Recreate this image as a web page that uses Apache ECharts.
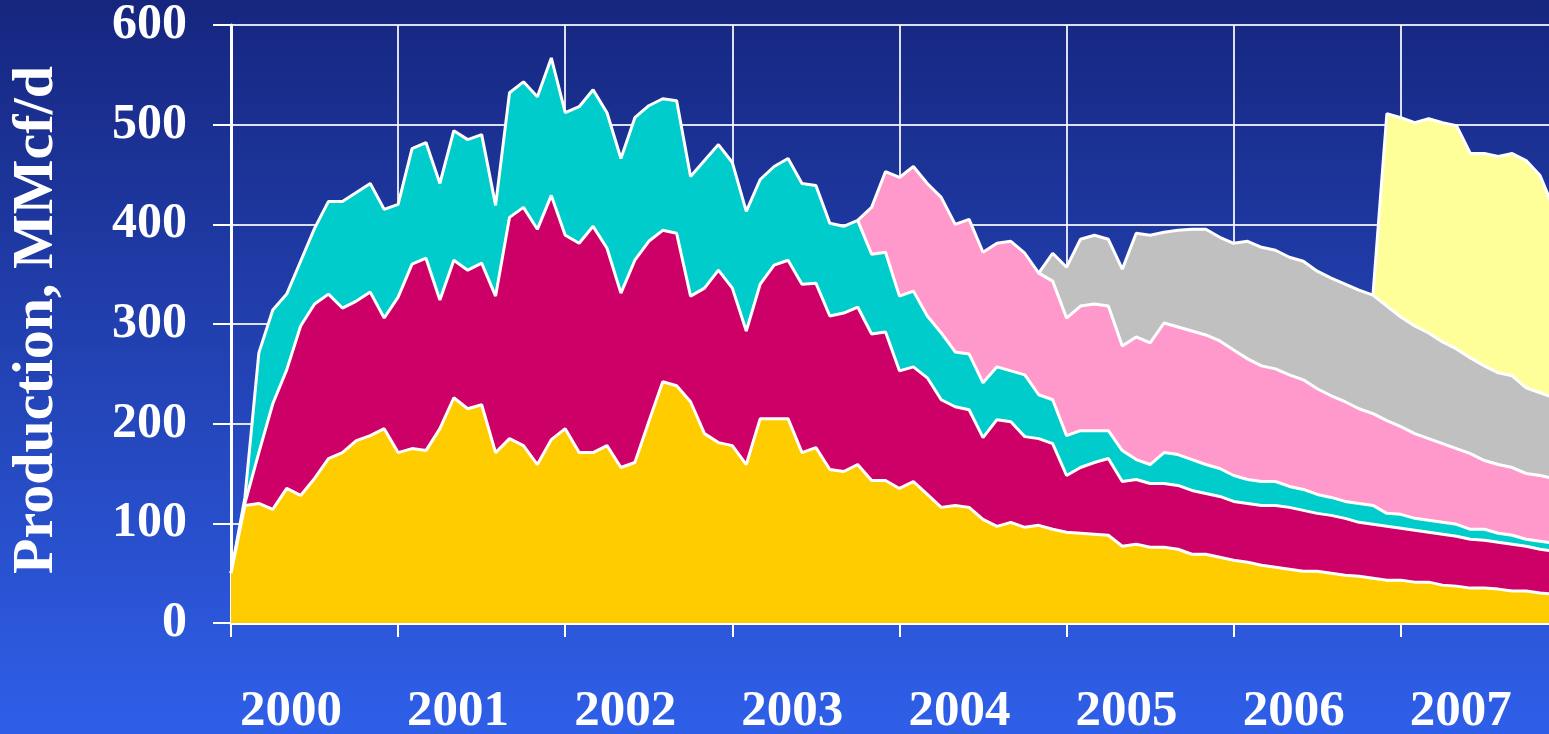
<!DOCTYPE html>
<html>
<head>
<meta charset="utf-8">
<title>Production, MMcf/d</title>
<script src="https://cdn.jsdelivr.net/npm/echarts@6/dist/echarts.min.js"></script>
<style>
  html, body { margin: 0; padding: 0; overflow: hidden; }
  #chart { width: 1549px; height: 734px; }
</style>
</head>
<body>
<div id="chart"></div>
<script>
// years on the x axis, one point per month
const years = ['2000', '2001', '2002', '2003', '2004', '2005', '2006', '2007'];
const yTicks = [0, 100, 200, 300, 400, 500, 600];

// monthly production per group, MMcf/d
const yellowVals = [
  50, 118, 120, 114, 135, 128, 145, 165, 171, 183, 188, 195,
  171, 175, 173, 195, 226, 215, 219, 171, 185, 178, 159, 184,
  195, 171, 171, 178, 156, 161, 202, 242, 238, 222, 190, 181,
  178, 159, 205, 205, 205, 171, 176, 154, 152, 159, 143, 143,
  135, 142, 129, 116, 118, 116, 104, 97, 101, 96, 98, 94,
  91, 90, 89, 88, 77, 79, 76, 76, 74, 69, 69, 66,
  63, 61, 58, 56, 54, 52, 52, 50, 48, 47, 45, 43,
  43, 41, 41, 38, 37, 35, 35, 34, 32, 32, 30, 29
];
const magentaVals = [
  0, 2, 51, 106, 119, 170, 175, 165, 145, 140, 144, 111,
  156, 185, 193, 129, 138, 139, 142, 157, 222, 239, 236, 245,
  194, 210, 227, 198, 175, 203, 181, 152, 153, 106, 146, 173,
  158, 134, 135, 154, 159, 169, 165, 154, 159, 158, 147, 149,
  118, 115, 117, 108, 99, 98, 82, 107, 101, 91, 87, 86,
  57, 66, 72, 77, 65, 65, 64, 64, 64, 64, 61, 61,
  59, 59, 60, 62, 62, 61, 58, 58, 57, 54, 54, 54,
  52, 52, 50, 51, 50, 49, 48, 47, 47, 45, 44, 43
];
const cyanVals = [
  0, 6, 100, 94, 76, 65, 76, 93, 107, 109, 109, 109,
  93, 116, 116, 117, 130, 131, 129, 91, 125, 126, 133, 138,
  123, 137, 137, 136, 135, 143, 136, 132, 133, 120, 128, 126,
  126, 120, 105, 99, 102, 101, 98, 93, 87, 87, 80, 80,
  75, 76, 62, 67, 55, 56, 55, 53, 51, 62, 44, 44,
  40, 37, 32, 28, 31, 20, 19, 31, 31, 31, 29, 28,
  26, 24, 24, 24, 21, 21, 19, 18, 17, 19, 19, 13,
  14, 12, 12, 12, 12, 10, 11, 9, 9, 7, 8, 8
];
// later groups start part way through (index of first month)
const pinkStart = 45;
const pinkVals = [
  0, 47, 81, 119, 125, 133, 136, 128, 135, 131, 124, 130, 122, 122, 119,
  118, 125, 127, 125, 105, 123, 122, 130, 128, 129, 130, 128,
  126, 121, 116, 113, 112, 110, 106, 102, 100, 95, 92, 93,
  88, 85, 82, 79, 76, 76, 69, 69, 68, 66, 66, 65
];
const grayStart = 58;
const grayVals = [
  0, 28,
  51, 67, 69, 67, 77, 104, 108, 91, 97, 102, 106, 104,
  107, 118, 119, 119, 118, 119, 118, 118, 118, 119, 119, 115,
  110, 108, 106, 102, 100, 96, 95, 92, 92, 86, 83, 81
];
const lightStart = 82;
const lightVals = [0, 193, 200, 204, 215, 220, 224, 205, 213, 217, 223, 228, 218, 189];

const months = [];
years.forEach(function (y) {
  for (let i = 1; i <= 12; i++) months.push(y + '-' + (i < 10 ? '0' + i : i));
});

function fromMonth(start, vals) {
  return new Array(start).fill(null).concat(vals);
}

const serif = '"Liberation Serif", "Times New Roman", serif';
const gridColor = 'rgba(255,255,255,0.85)';

// z goes down as we stack up so each white edge sits on top of the area above it
function areaSeries(name, data, color, z) {
  return {
    name: name,
    type: 'line',
    stack: 'total',
    data: data,
    z: z,
    symbol: 'none',
    showSymbol: false,
    connectNulls: false,
    lineStyle: { color: '#ffffff', width: 3 },
    itemStyle: { color: color },
    areaStyle: { color: color, opacity: 1 },
    emphasis: { disabled: true }
  };
}

let myChart = echarts.init(document.getElementById('chart'));
let option = {
  animation: false,
  backgroundColor: new echarts.graphic.LinearGradient(0, 0, 0, 1, [
    { offset: 0, color: '#16267f' },
    { offset: 1, color: '#2f5fe9' }
  ]),
  grid: {
    left: 231,
    right: -5,
    top: 25,
    bottom: 111,
    containLabel: false,
    outerBoundsMode: 'none'
  },
  graphic: [{
    type: 'text',
    x: 37,
    y: 320,
    rotation: Math.PI / 2,
    style: {
      text: 'Production, MMcf/d',
      fill: '#ffffff',
      font: 'bold 58px ' + serif,
      align: 'center',
      verticalAlign: 'middle',
      textAlign: 'center',
      textVerticalAlign: 'middle'
    }
  }],
  xAxis: {
    type: 'category',
    data: months,
    boundaryGap: false,
    axisLine: { show: true, lineStyle: { color: '#ffffff', width: 3 } },
    axisTick: {
      show: true,
      interval: function (i) { return i % 12 === 0; },
      length: 14,
      lineStyle: { color: '#ffffff', width: 2 }
    },
    splitLine: {
      show: true,
      interval: function (i) { return i % 12 === 0; },
      lineStyle: { color: gridColor, width: 2 }
    },
    axisLabel: {
      interval: function (i) { return i % 12 === 0; },
      formatter: function (v) { return v.slice(0, 4); },
      align: 'left',
      padding: [0, 0, 0, 9],
      margin: 63,
      color: '#ffffff',
      fontFamily: serif,
      fontWeight: 'bold',
      fontSize: 51
    }
  },
  yAxis: {
    type: 'value',
    min: yTicks[0],
    max: yTicks[yTicks.length - 1],
    interval: 100,
    axisLine: { show: true, lineStyle: { color: '#ffffff', width: 3 } },
    axisTick: { show: true, length: 18, lineStyle: { color: '#ffffff', width: 2 } },
    splitLine: { show: true, lineStyle: { color: gridColor, width: 2 } },
    axisLabel: {
      margin: 44,
      color: '#ffffff',
      fontFamily: serif,
      fontWeight: 'bold',
      fontSize: 50
    }
  },
  series: [
    areaSeries('Group 1', yellowVals, '#ffcc00', 9),
    areaSeries('Group 2', magentaVals, '#cc0066', 8),
    areaSeries('Group 3', cyanVals, '#00cccc', 7),
    areaSeries('Group 4', fromMonth(pinkStart, pinkVals), '#ff99cc', 6),
    areaSeries('Group 5', fromMonth(grayStart, grayVals), '#c0c0c0', 5),
    areaSeries('Group 6', fromMonth(lightStart, lightVals), '#ffff99', 4)
  ]
};
myChart.setOption(option);
</script>
</body>
</html>
